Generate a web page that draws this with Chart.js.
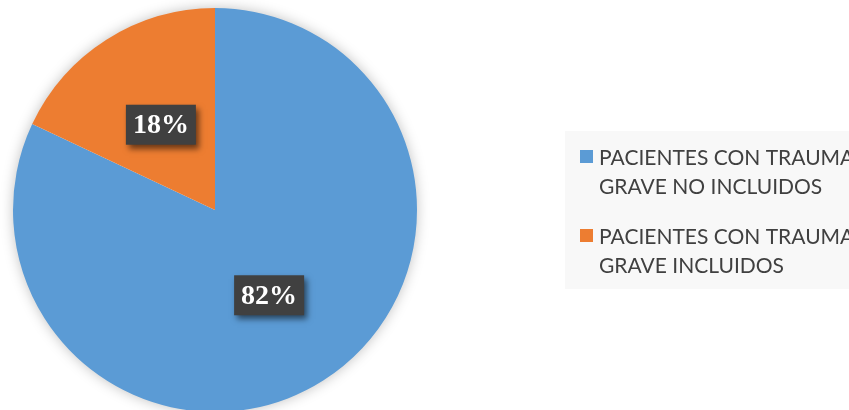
<!DOCTYPE html>
<html>
<head>
<meta charset="utf-8">
<script src="https://cdn.jsdelivr.net/npm/chart.js@4.4.1/dist/chart.umd.min.js"></script>
<style>
  html, body { margin: 0; padding: 0; background: #fff; }
  #wrap { width: 849px; height: 410px; }
</style>
</head>
<body>
<div id="wrap"><canvas id="pizza"></canvas></div>
<script>
var labels = [
    ['PACIENTES CON TRAUMA', 'GRAVE NO INCLUIDOS'],
    ['PACIENTES CON TRAUMA', 'GRAVE INCLUIDOS']
];
var values = [82, 18];
var valueLabels = ['82%', '18%'];
var colors = ['#5B9BD5', '#ED7D31'];

// soft shadow behind the pie
var pieShadow = {
    id: 'pieShadow',
    beforeDatasetsDraw: function(chart) {
        var arc = chart.getDatasetMeta(0).data[0];
        if (!arc) return;
        var ctx = chart.ctx;
        ctx.save();
        ctx.shadowColor = 'rgba(0,0,0,0.28)';
        ctx.shadowBlur = 14;
        ctx.fillStyle = '#ffffff';
        ctx.beginPath();
        ctx.arc(arc.x, arc.y, arc.outerRadius - 1, 0, Math.PI * 2);
        ctx.fill();
        ctx.restore();
    }
};

// dark boxes with percentages
var boxLabels = {
    id: 'boxLabels',
    afterDatasetsDraw: function(chart) {
        var ctx = chart.ctx;
        var meta = chart.getDatasetMeta(0);
        meta.data.forEach(function(arc, i) {
            var p = arc.tooltipPosition();
            var w = 70, h = 40;
            ctx.save();
            ctx.shadowColor = 'rgba(0,0,0,0.55)';
            ctx.shadowBlur = 6;
            ctx.shadowOffsetX = 3;
            ctx.shadowOffsetY = 4;
            ctx.fillStyle = '#404040';
            ctx.fillRect(p.x - w / 2, p.y - h / 2, w, h);
            ctx.restore();
            ctx.save();
            ctx.fillStyle = '#ffffff';
            ctx.font = 'bold 28px "Liberation Serif", "Times New Roman", serif';
            ctx.textAlign = 'center';
            ctx.textBaseline = 'middle';
            ctx.fillText(valueLabels[i], p.x, p.y + 1);
            ctx.restore();
        });
    }
};

// legend on the right, in a light grey box
var sideLegend = {
    id: 'sideLegend',
    afterDraw: function(chart) {
        var ctx = chart.ctx;
        ctx.save();
        ctx.fillStyle = '#F8F8F8';
        ctx.fillRect(565, 131, 284, 158);
        ctx.font = '21px Lato, "Open Sans", sans-serif';
        ctx.textBaseline = 'alphabetic';
        ctx.textAlign = 'left';
        labels.forEach(function(lines, i) {
            var top = 150 + i * 79;
            ctx.fillStyle = colors[i];
            ctx.fillRect(580, top, 13, 13);
            ctx.fillStyle = '#404040';
            lines.forEach(function(line, j) {
                ctx.fillText(line, 599, top + 15 + j * 29);
            });
        });
        ctx.restore();
    }
};

var ctx = document.getElementById('pizza').getContext('2d');
var chart = new Chart(ctx, {
    type: 'pie',
    data: {
        labels: labels,
        datasets: [{
            data: values,
            backgroundColor: colors,
            borderWidth: 0
        }]
    },
    options: {
        responsive: true,
        maintainAspectRatio: false,
        animation: false,
        radius: 202,
        layout: {
            padding: { left: 13, right: 432, top: 10, bottom: 0 }
        },
        plugins: {
            legend: { display: false },
            tooltip: { enabled: false }
        }
    },
    plugins: [pieShadow, boxLabels, sideLegend]
});
</script>
</body>
</html>
